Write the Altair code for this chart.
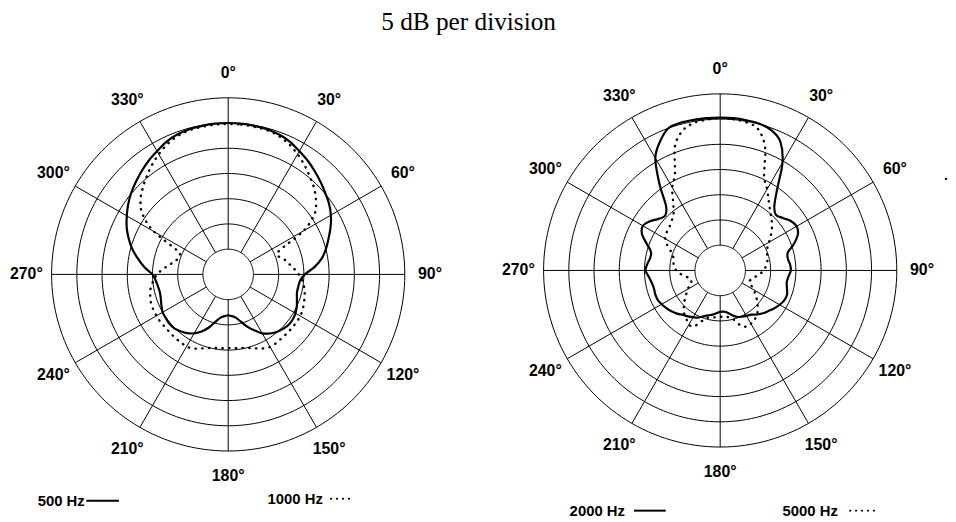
import altair as alt
import pandas as pd

# ---------------- data ----------------
ANGLES = list(range(0, 360, 5))  # degrees

# response relative to on-axis level, dB (5 dB per ring)
DB_500 = [0, 0, -0.1, -0.2, -0.5, -1.0, -1.8, -2.5, -3.3, -4.1, -4.9, -5.6, -6.5, -7.6, -8.8, -9.9,
          -11.1, -12.8, -14.8, -15.7, -15.9, -15.9, -15.5, -15.0, -14.6, -14.4, -14.4, -14.7, -15.1,
          -15.7, -16.5, -17.8, -19.0, -20.3, -21.3, -21.7, -21.9,
          -21.7, -21.3, -20.3, -18.8, -17.5, -16.5, -15.8, -15.3, -14.9, -14.8, -14.9, -15.0, -15.4,
          -15.8, -16.0, -15.9, -15.6, -15.0, -13.3, -11.8, -10.3, -9.0, -7.8, -6.8, -5.8, -4.9, -4.1,
          -3.3, -2.5, -1.8, -1.0, -0.5, -0.2, -0.1, 0]
DB_1000 = [-0.2, -0.2, -0.3, -0.4, -0.8, -1.5, -2.5, -3.6, -4.8, -5.9, -7.3, -9.1, -12.8, -18.8,
           -19.4, -18.5, -17.8, -16.9, -16.0, -15.2, -14.7, -14.3, -14.0, -13.7, -13.5, -13.5, -13.5,
           -13.5, -13.5, -13.4, -13.4, -13.8, -14.4, -14.9, -15.2, -15.3, -15.4,
           -15.3, -15.2, -14.9, -14.4, -13.8, -13.5, -13.6, -13.6, -13.7, -13.7, -13.6, -13.6, -13.6,
           -13.7, -14.0, -14.4, -15.1, -15.9, -17.1, -18.4, -19.3, -19.7, -18.9, -13.0, -9.3, -7.3,
           -6.0, -4.8, -3.6, -2.5, -1.5, -0.8, -0.4, -0.3, -0.2]
DB_2000 = [0.3, 0.3, 0.2, 0.1, -0.4, -1.8, -5.3, -10.3, -13.3, -14.4, -13.8, -12.9, -12.5, -13.0,
           -14.4, -16.1, -16.4, -16.1, -16.0, -16.4, -16.6, -16.3, -15.9, -16.0, -16.4, -16.9, -17.5,
           -18.0, -18.6, -19.3, -19.6, -19.9, -20.2, -20.8, -21.5, -21.8, -21.8,
           -21.5, -21.1, -20.8, -20.3, -19.7, -19.3, -18.9, -18.5, -17.9, -17.4, -17.0, -16.6, -16.3,
           -16.3, -16.4, -16.2, -15.8, -15.2, -15.5, -15.9, -15.8, -14.5, -12.9, -12.3, -13.0, -14.1,
           -14.6, -13.3, -9.0, -4.3, -1.8, 0.0, 0.3, 0.3, 0.3]
DB_5000 = [0.2, 0.1, -0.2, -1.0, -4.0, -9.4, -11.4, -13.2, -14.6, -15.6, -16.6, -17.7, -18.8, -19.7,
           -20.1, -20.4, -20.5, -20.9, -21.4, -22.1, -22.9, -23.5, -23.8, -23.3, -22.3, -21.4, -20.4,
           -19.5, -18.6, -18.1, -17.8, -17.7, -18.5, -20.0, -20.6, -20.8, -20.8,
           -20.7, -20.5, -20.3, -19.3, -17.8, -17.6, -18.3, -18.9, -19.8, -20.8, -21.8, -22.5, -23.6,
           -23.9, -23.8, -23.1, -22.1, -21.3, -20.8, -20.6, -20.4, -19.8, -18.5, -17.4, -17.0, -16.8,
           -16.3, -15.6, -13.8, -11.0, -8.8, -3.8, -1.3, -0.3, 0.0]

RING_LEVELS = [1, 2, 3, 4, 5, 6, 7]
SPOKE_ANGLES = [0, 30, 60, 90, 120, 150, 180, 210, 240, 270, 300, 330]
TICK_LABELS = ["0°", "30°", "60°", "90°", "120°", "150°", "180°", "210°", "240°", "270°", "300°", "330°"]
TITLE = "5 dB per division"
SERIES_NAMES = [("500 Hz", "1000 Hz"), ("2000 Hz", "5000 Hz")]

# ---------------- layout / style ----------------
DB_PER_DIV = 5
REF_DIV = 6          # 0 dB sits on the 6th ring
LABEL_DIV = 8.0      # angle labels radius, in ring divisions
PX = 25.47           # pixels per ring division
PANEL_W = 445
PANEL_H = 506
SPACING = 52
CENTRES = [(222.3, 265.5), (222.0, 261.5)]   # panel-local pixel centres
LABEL_FONT = "Liberation Sans"

# legend layout (panel-local pixels)
LEGEND = [
    dict(t1=(30, 494), l1=(79, 112, 494), t2=(262, 492), l2=(326, 347, 492)),
    dict(t1=(70, 504), l1=(135, 167, 504), t2=(285, 504), l2=(353, 382, 504)),
]


def scales(cx, cy):
    xs = alt.Scale(domain=[-cx / PX, (PANEL_W - cx) / PX], nice=False, zero=False)
    ys = alt.Scale(domain=[-(PANEL_H - cy) / PX, cy / PX], nice=False, zero=False)
    return xs, ys


def polar_xy(chart, rexpr):
    return (chart.transform_calculate(r=rexpr)
            .transform_calculate(x="datum.r * sin(datum.ang * PI / 180)")
            .transform_calculate(y="datum.r * cos(datum.ang * PI / 180)"))


def panel(idx, db_solid, db_dotted):
    cx, cy = CENTRES[idx]
    xs, ys = scales(cx, cy)
    X = lambda f: alt.X(f, type="quantitative", scale=xs, axis=None)
    Y = lambda f: alt.Y(f, type="quantitative", scale=ys, axis=None)

    rings = (alt.Chart(pd.DataFrame({"level": RING_LEVELS}))
             .transform_calculate(ang="sequence(0, 360, 2)")
             .transform_flatten(["ang"]))
    rings = polar_xy(rings, "datum.level").mark_line(
        color="black", strokeWidth=1, interpolate="linear-closed"
    ).encode(x=X("x"), y=Y("y"), detail="level:N", order="ang:Q")

    spokes = (alt.Chart(pd.DataFrame({"ang": SPOKE_ANGLES}))
              .transform_calculate(x1=f"{RING_LEVELS[0]} * sin(datum.ang * PI / 180)")
              .transform_calculate(y1=f"{RING_LEVELS[0]} * cos(datum.ang * PI / 180)")
              .transform_calculate(x2=f"{RING_LEVELS[-1]} * sin(datum.ang * PI / 180)")
              .transform_calculate(y2=f"{RING_LEVELS[-1]} * cos(datum.ang * PI / 180)")
              .mark_rule(color="black", strokeWidth=1)
              .encode(x=X("x1"), y=Y("y1"), x2="x2:Q", y2="y2:Q"))

    labels = polar_xy(alt.Chart(pd.DataFrame({"ang": SPOKE_ANGLES, "lab": TICK_LABELS})),
                      str(LABEL_DIV)).mark_text(
        font=LABEL_FONT, fontWeight="bold", fontSize=16, align="center", baseline="middle",
        color="black"
    ).encode(x=X("x"), y=Y("y"), text="lab:N")

    def curve(db, dotted):
        mk = dict(color="black", strokeWidth=2.2, interpolate="cardinal-closed")
        if dotted:
            mk.update(strokeWidth=2.4, strokeDash=[0.4, 6.4], strokeCap="round")
        c = alt.Chart(pd.DataFrame({"ang": ANGLES, "db": db}))
        return polar_xy(c, f"{REF_DIV} + datum.db / {DB_PER_DIV}").mark_line(**mk).encode(
            x=X("x"), y=Y("y"), order="ang:Q")

    lg = LEGEND[idx]
    n1, n2 = SERIES_NAMES[idx]
    one = pd.DataFrame({"k": [0]})

    def leg_text(name, pos):
        return alt.Chart(pd.DataFrame({"t": [name]})).mark_text(
            font=LABEL_FONT, fontWeight="bold", fontSize=15, align="left", baseline="middle",
            color="black").encode(x=alt.value(pos[0]), y=alt.value(pos[1]), text="t:N")

    leg_line = alt.Chart(one).mark_rule(color="black", strokeWidth=2).encode(
        x=alt.value(lg["l1"][0]), x2=alt.value(lg["l1"][1]), y=alt.value(lg["l1"][2]))
    leg_dots = alt.Chart(one).mark_rule(
        color="black", strokeWidth=1.8, strokeDash=[0.4, 5.6], strokeCap="round").encode(
        x=alt.value(lg["l2"][0]), x2=alt.value(lg["l2"][1]), y=alt.value(lg["l2"][2]))

    layers = [rings, spokes, labels, curve(db_solid, False), curve(db_dotted, True),
              leg_text(n1, lg["t1"]), leg_line, leg_text(n2, lg["t2"]), leg_dots]

    if idx == 0:
        layers.append(alt.Chart(pd.DataFrame({"t": [TITLE]})).mark_text(
            font="Liberation Serif", fontSize=25.5, align="center", baseline="alphabetic",
            color="black").encode(x=alt.value(465), y=alt.value(19), text="t:N"))
    else:
        layers.append(alt.Chart(pd.DataFrame({"t": ["."]})).mark_text(
            font=LABEL_FONT, fontWeight="bold", fontSize=14, align="center",
            baseline="alphabetic", color="black").encode(
            x=alt.value(450), y=alt.value(170), text="t:N"))

    return alt.layer(*layers).properties(width=PANEL_W, height=PANEL_H)


chart = alt.hconcat(
    panel(0, DB_500, DB_1000),
    panel(1, DB_2000, DB_5000),
    spacing=SPACING, bounds="flush",
).configure_view(stroke=None).properties(padding=0, background="white")

chart.save("out.html", embed_options={"renderer": "svg", "actions": False})
